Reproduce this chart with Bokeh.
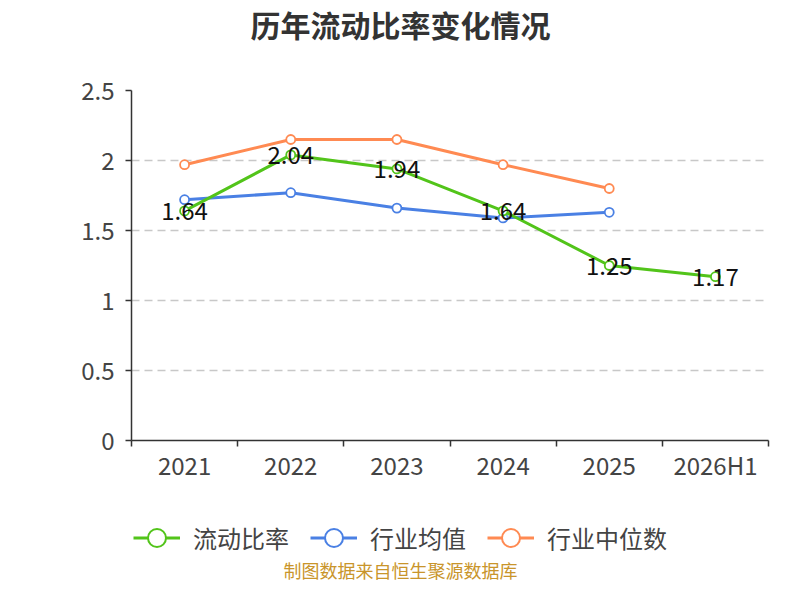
from bokeh.plotting import figure
from bokeh.layouts import column
from bokeh.models import (Range1d, FixedTicker, Legend, LegendItem, ColumnDataSource,
                          LabelSet, Label)
from bokeh.core.properties import value
from bokeh.embed import file_html
from bokeh.resources import INLINE

categories = ["2021", "2022", "2023", "2024", "2025", "2026H1"]
ratio = [1.64, 2.04, 1.94, 1.64, 1.25, 1.17]
industry_mean = [1.72, 1.77, 1.66, 1.59, 1.63]
industry_median = [1.97, 2.15, 2.15, 1.97, 1.80]
y_ticks = [0, 0.5, 1, 1.5, 2, 2.5]

title_text = "历年流动比率变化情况"
footer_text = "制图数据来自恒生聚源数据库"
series_names = ["流动比率", "行业均值", "行业中位数"]
colors = ["#52c41a", "#4a80e4", "#ff8a52"]

FONT = "Noto Sans CJK SC"
W = 784
LEFT = 131   # frame left (frames are aligned across the column)
CENTER = 400 - LEFT
NAN = float("nan")


def blank_fig(h):
    f = figure(width=W, height=h, output_backend="svg", toolbar_location=None,
               x_range=Range1d(0, 1), y_range=Range1d(0, 1),
               x_axis_location=None, y_axis_location=None, min_border=0)
    f.outline_line_color = None
    f.xgrid.visible = False
    f.ygrid.visible = False
    return f


# ---- title strip ----
p_top = blank_fig(60)
p_top.add_layout(Label(x=CENTER, y=37, x_units="screen", y_units="screen", text=title_text,
                       text_align="center", text_baseline="middle", text_font=FONT,
                       text_font_size="30px", text_font_style="bold", text_color="#333333"))

# ---- main chart ----
xpos = [i + 0.5 for i in range(len(categories))]

p = figure(width=W, height=430, output_backend="svg", toolbar_location=None,
           x_range=Range1d(0, len(categories)), y_range=Range1d(0, 2.5),
           min_border_left=LEFT, min_border_right=16, min_border_top=30, min_border_bottom=50)
p.outline_line_color = None

xa = p.xaxis[0]
xa.ticker = FixedTicker(ticks=xpos, minor_ticks=list(range(len(categories) + 1)))
xa.major_label_overrides = {x: c for x, c in zip(xpos, categories)}
xa.major_tick_line_color = None
xa.major_tick_in = 0
xa.major_tick_out = 0
xa.minor_tick_in = 0
xa.minor_tick_out = 6
xa.minor_tick_line_color = "#333333"
xa.minor_tick_line_width = 1.5
xa.axis_line_color = "#333333"
xa.axis_line_width = 1.5
xa.major_label_standoff = 0
xa.major_label_text_font = FONT
xa.major_label_text_font_size = "24px"
xa.major_label_text_color = "#444444"

ya = p.yaxis[0]
ya.ticker = FixedTicker(ticks=y_ticks, minor_ticks=[])
ya.major_label_overrides = {t: ("%g" % t) for t in y_ticks}
ya.major_tick_in = 0
ya.major_tick_out = 6
ya.major_tick_line_color = "#333333"
ya.major_tick_line_width = 1.5
ya.axis_line_color = "#333333"
ya.axis_line_width = 1.5
ya.major_label_standoff = 11
ya.major_label_text_font = FONT
ya.major_label_text_font_size = "24px"
ya.major_label_text_color = "#444444"

p.xgrid.grid_line_color = None
p.ygrid.ticker = FixedTicker(ticks=y_ticks[1:])
p.ygrid.grid_line_color = "#c8c8c8"
p.ygrid.grid_line_dash = "8 5"
p.ygrid.grid_line_width = 1.5

for name, vals, col in [(series_names[2], industry_median, colors[2]),
                        (series_names[1], industry_mean, colors[1]),
                        (series_names[0], ratio, colors[0])]:
    src = ColumnDataSource(dict(x=xpos[:len(vals)], y=vals))
    p.line("x", "y", source=src, line_color=col, line_width=3)
    p.scatter("x", "y", source=src, size=9, marker="circle", fill_color="white",
              line_color=col, line_width=1.8)

lab_src = ColumnDataSource(dict(x=xpos, y=ratio, t=["%.2f" % v for v in ratio]))
p.add_layout(LabelSet(x="x", y="y", text="t", source=lab_src, text_align="center",
                      text_baseline="middle", text_font=value(FONT), text_font_size="24px",
                      text_color="#111111"))

# ---- legend + footer strip ----
p_bot = blank_fig(94)
leg_items = []
for name, col in zip(series_names, colors):
    ln = p_bot.line(x=[NAN], y=[NAN], line_color=col, line_width=3)
    sc = p_bot.scatter(x=[NAN], y=[NAN], marker="circle", size=18, fill_color="white",
                       line_color=col, line_width=2)
    leg_items.append(LegendItem(label=name, renderers=[ln, sc]))
legend = Legend(items=leg_items, orientation="horizontal", location=(2, 24),
                glyph_width=47, glyph_height=45, label_standoff=13, spacing=21,
                padding=0, margin=0, border_line_color=None, background_fill_alpha=0,
                label_text_font=FONT, label_text_font_size="24px", label_text_color="#444444")
p_bot.add_layout(legend, "center")
p_bot.add_layout(Label(x=CENTER, y=15, x_units="screen", y_units="screen", text=footer_text,
                       text_align="center", text_baseline="middle", text_font=FONT,
                       text_font_size="18px", text_color="#c9952b"))

layout = column(p_top, p, p_bot, spacing=0)
open("out.html", "w").write(file_html(layout, INLINE))
